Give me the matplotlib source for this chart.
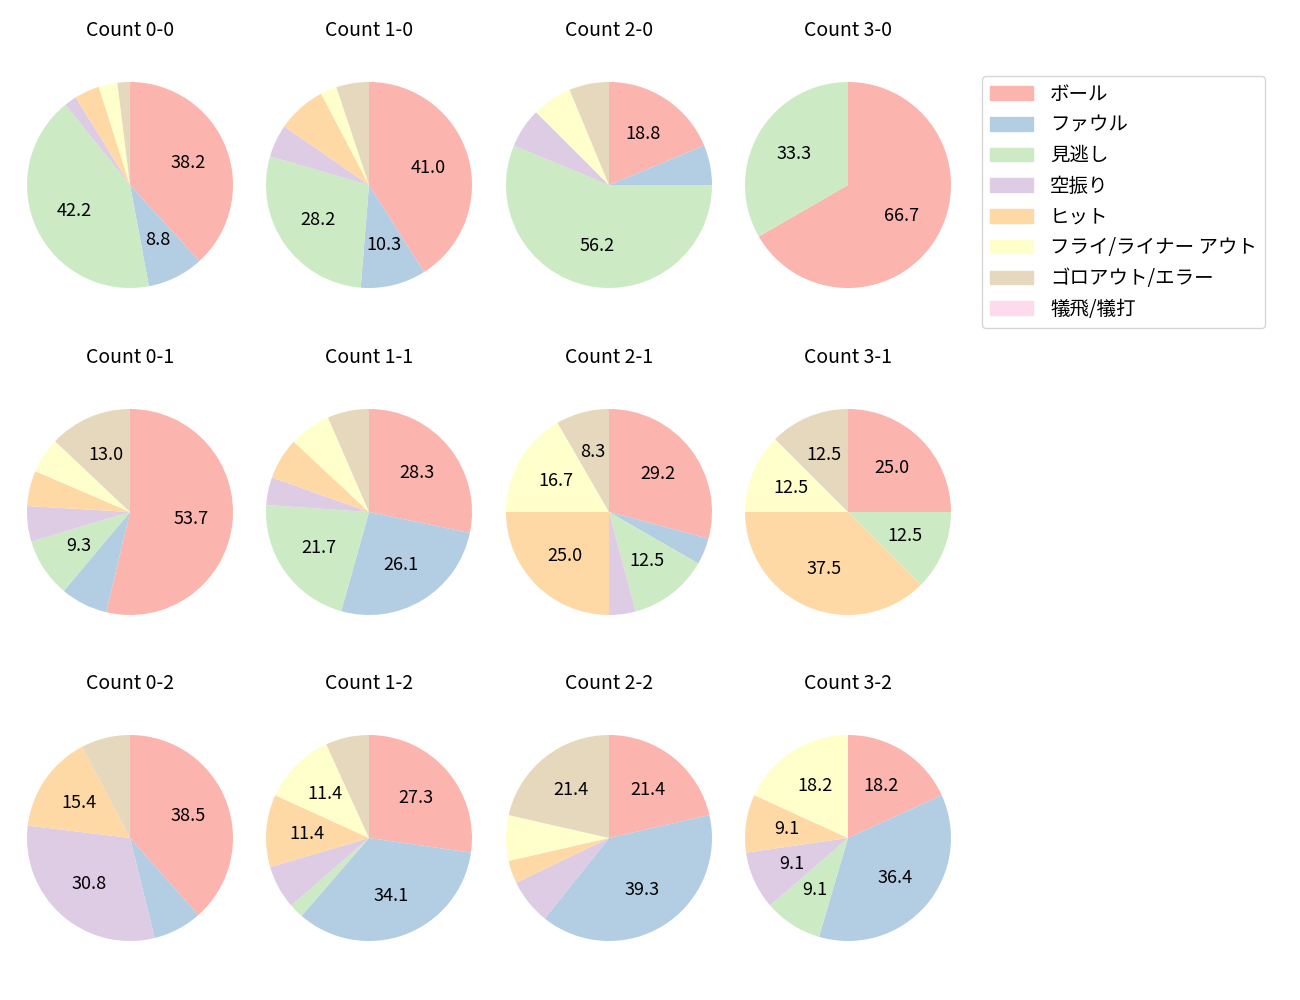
import matplotlib
matplotlib.use('Agg')
import matplotlib.pyplot as plt
import numpy as np

plt.rcParams['font.family'] = ['Noto Sans CJK JP', 'DejaVu Sans']

labels = ['ボール', 'ファウル', '見逃し', '空振り', 'ヒット',
          'フライ/ライナー アウト', 'ゴロアウト/エラー', '犠飛/犠打']

titles = ['Count 0-0', 'Count 1-0', 'Count 2-0', 'Count 3-0',
          'Count 0-1', 'Count 1-1', 'Count 2-1', 'Count 3-1',
          'Count 0-2', 'Count 1-2', 'Count 2-2', 'Count 3-2']

# pitch counts per category, order as in labels
count_00 = [39, 9, 43, 2, 4, 3, 2, 0]
count_10 = [16, 4, 11, 2, 3, 1, 2, 0]
count_20 = [3, 1, 9, 1, 0, 1, 1, 0]
count_30 = [2, 0, 1, 0, 0, 0, 0, 0]
count_01 = [29, 4, 5, 3, 3, 3, 7, 0]
count_11 = [13, 12, 10, 2, 3, 3, 3, 0]
count_21 = [7, 1, 3, 1, 6, 4, 2, 0]
count_31 = [2, 0, 1, 0, 3, 1, 1, 0]
count_02 = [5, 1, 0, 4, 2, 0, 1, 0]
count_12 = [12, 15, 1, 3, 5, 5, 3, 0]
count_22 = [6, 11, 0, 2, 1, 2, 6, 0]
count_32 = [2, 4, 1, 1, 1, 2, 0, 0]

all_counts = [count_00, count_10, count_20, count_30,
              count_01, count_11, count_21, count_31,
              count_02, count_12, count_22, count_32]

colors = plt.cm.Pastel1(np.arange(len(labels)))


def _pct(p):
    return f'{p:.1f}' if p >= 8 else ''


W, H = 1300, 1000
fig = plt.figure(figsize=(13, 10))

# pie centres in pixels, radius ~103 px -> axes side 2.5 * 103
col_x = [130, 369, 609, 848]
row_y = [185, 512, 838]
side = 2.5 * 103

for i, (title, vals) in enumerate(zip(titles, all_counts)):
    cx = col_x[i % 4]
    cy = row_y[i // 4]
    ax = fig.add_axes([(cx - side / 2) / W, 1 - (cy + side / 2) / H, side / W, side / H])
    ax.pie(vals, colors=colors, startangle=90, counterclock=False,
           autopct=_pct, textprops={'fontsize': 13})
    ax.set_title(title, fontsize=14, pad=14.5)
    ax.set_aspect('equal')

handles = [plt.Rectangle((0, 0), 1, 1, color=c) for c in colors]
fig.legend(handles, labels, loc='upper left', bbox_to_anchor=(982 / W, 1 - 76 / H),
           borderaxespad=0, fontsize=14, handlelength=2.2, handletextpad=0.9)

plt.savefig('out.png', dpi=100)
plt.close()
